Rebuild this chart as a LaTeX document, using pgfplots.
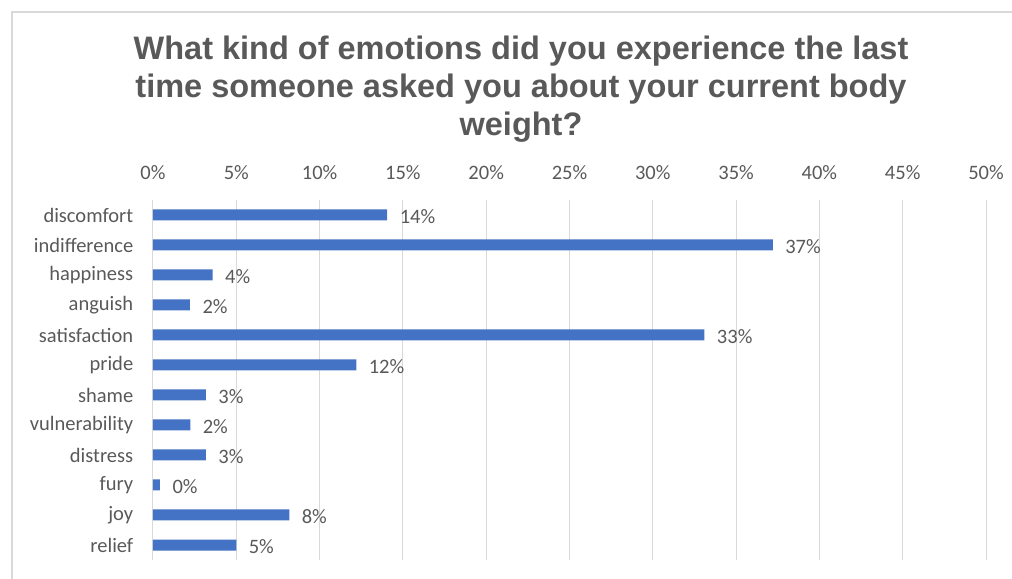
\documentclass[border=0pt]{standalone}
\usepackage{pgfplots}
\pgfplotsset{compat=1.18}
\usepackage{fontspec}
\setmainfont{Carlito}
\newfontfamily\titlefont{Liberation Sans}
\definecolor{barblue}{HTML}{4472C4}
\definecolor{txtgray}{HTML}{595959}
\definecolor{gridgray}{HTML}{D9D9D9}
\begin{document}
\begin{tikzpicture}[x=1bp,y=1bp]
\begin{axis}[
  at={(0,0)}, anchor=south west,
  scale only axis, width=833bp, height=360bp,
  xbar, bar width=11bp,
  xmin=0, xmax=50,
  ymin=-0.5, ymax=11.5, y dir=reverse,
  axis line style={draw=none},
  axis x line*=top,
  xtick={0,5,...,50},
  xticklabel={\pgfmathprintnumber{\tick}\%},
  xtick style={draw=none}, ytick style={draw=none},
  xmajorgrids, major grid style={gridgray, line width=1bp},
  ytick={0,...,11},
  yticklabels={discomfort,indifference,happiness,anguish,satisfaction,pride,shame,vulnerability,distress,fury,joy,relief},
  tick label style={font=\fontsize{20.5bp}{24bp}\selectfont, text=txtgray},
  yticklabel style={xshift=-12bp},
  xticklabel style={yshift=17bp},
  /pgf/number format/assume math mode=true,
  nodes near coords={\pgfmathprintnumber[fixed,precision=0]{\pgfplotspointmeta}\%},
  nodes near coords style={font=\fontsize{20.5bp}{24bp}\selectfont, text=txtgray, anchor=west, xshift=9bp, yshift=-2bp, /pgf/number format/assume math mode=true},
  clip=false,
]
\addplot[fill=barblue, draw=none] coordinates {
(14.06,0) (37.2,1) (3.58,2) (2.22,3) (33.1,4) (12.2,5) (3.18,6) (2.24,7) (3.18,8) (0.42,9) (8.18,10) (5.0,11)
};
\end{axis}
\draw[gridgray, line width=1.5bp] (-141,-19) -- (-141,548) -- (859,548);
\node[font=\titlefont\bfseries\fontsize{32.5bp}{37.7bp}\selectfont, text=txtgray, align=center, anchor=base, inner sep=0pt] at (368,424.6)
 {What kind of emotions did you experience the last\\time someone asked you about your current body\\weight?};
\pgfresetboundingbox
\path[use as bounding box] (-153,-19) rectangle (859,560);
\end{tikzpicture}
\end{document}
